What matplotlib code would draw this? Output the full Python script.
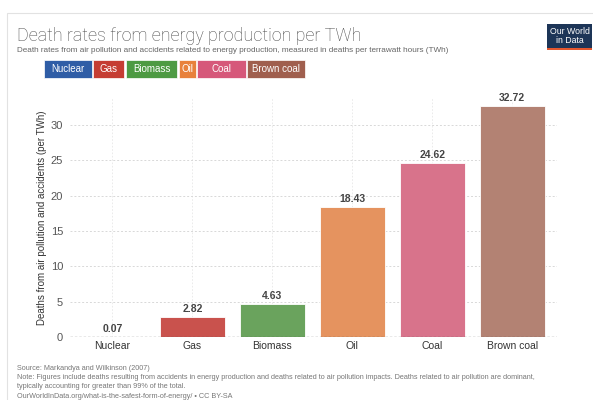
import matplotlib.pyplot as plt
from matplotlib.patches import Rectangle

## Data
sources = ['Nuclear', 'Gas', 'Biomass', 'Oil', 'Coal', 'Brown coal']
death_rates = [0.07, 2.82, 4.63, 18.43, 24.62, 32.72]
bar_colors = ['#3c64a8', '#c9524d', '#6aa35d', '#e5935f', '#d8738b', '#b38273']
legend_colors = ['#2f5da6', '#c53d33', '#4d9a42', '#e8813b', '#d6587a', '#a05f4e']
yticks = [0, 5, 10, 15, 20, 25, 30]

plt.rcParams['font.family'] = ['Liberation Sans', 'DejaVu Sans']

fig = plt.figure(figsize=(5.93, 4.0), dpi=100)
W, H = 593.0, 400.0

# card border
fig.patches.append(Rectangle((7 / W, -0.1), 1.1, 1 - 13 / H + 0.1, transform=fig.transFigure,
                             fill=False, edgecolor='#e2e2e2', linewidth=0.8))

ax = fig.add_axes([70 / W, 1 - 337 / H, (557 - 70) / W, (337 - 98) / H])
x = list(range(len(sources)))
bars = ax.bar(x, death_rates, width=0.81, color=bar_colors, edgecolor='white', linewidth=0.6, zorder=3)
for rect, v in zip(bars, death_rates):
  ax.annotate('{:.2f}'.format(v), xy=(rect.get_x() + rect.get_width() / 2, v),
              xytext=(0, 2), textcoords='offset points', ha='center', va='bottom',
              fontsize=7.5, fontweight='bold', color='#444444')

ax.set_xlim(-0.53, 5.56)
ax.set_ylim(0, 33.8)
ax.set_xticks(x)
ax.set_xticklabels(sources, fontsize=7.5, color='#333333')
ax.set_yticks(yticks)
ax.set_yticklabels([str(t) for t in yticks], fontsize=8, color='#555555')
ax.tick_params(axis='both', length=0, pad=3)
ax.tick_params(axis='y', pad=5)
for s in ax.spines.values():
  s.set_visible(False)
ax.grid(True, axis='y', linestyle=(0, (2, 2)), color='#d8d8d8', linewidth=0.7, zorder=0)
ax.grid(True, axis='x', linestyle=(0, (2, 2)), color='#e8e8e8', linewidth=0.6, zorder=0)
ax.axhline(0, color='#555555', linestyle=(0, (2, 1.5)), linewidth=0.9, zorder=4)
ax.set_ylabel('Deaths from air pollution and accidents (per TWh)', fontsize=7, color='#333333', labelpad=3)

# titles
fig.text(17 / W, 1 - 41 / H, 'Death rates from energy production per TWh', fontsize=12.9,
         family=['Roboto', 'DejaVu Sans'], fontweight='light',
         color='#4a4a4a', ha='left', va='baseline')
fig.text(17 / W, 1 - 52 / H,
         'Death rates from air pollution and accidents related to energy production, measured in deaths per terrawatt hours (TWh)',
         fontsize=5.9, color='#666666', ha='left', va='baseline')

# legend boxes
lx = [44, 93, 126, 179, 197, 247]
rx = [92, 124, 177, 196, 246, 305]
for name, col, a, b in zip(sources, legend_colors, lx, rx):
  fig.patches.append(Rectangle((a / W, 1 - 78 / H), (b - a) / W, 18 / H, transform=fig.transFigure,
                               facecolor=col, edgecolor='white', linewidth=0.5))
  fig.text((a + b) / 2 / W, 1 - 69 / H, name, fontsize=7, color='white', ha='center', va='center')

# logo
fig.patches.append(Rectangle((547 / W, 1 - 50 / H), 45 / W, 26 / H, transform=fig.transFigure,
                             facecolor='#1d3557', edgecolor='none'))
fig.patches.append(Rectangle((547 / W, 1 - 50 / H), 45 / W, 2.5 / H, transform=fig.transFigure,
                             facecolor='#e4572e', edgecolor='none'))
fig.text(569.5 / W, 1 - 36 / H, 'Our World\nin Data', fontsize=6.3, color='white', ha='center',
         va='center', linespacing=0.95)

# footer
foot = ['Source: Markandya and Wilkinson (2007)',
        'Note: Figures include deaths resulting from accidents in energy production and deaths related to air pollution impacts. Deaths related to air pollution are dominant,',
        'typically accounting for greater than 99% of the total.',
        'OurWorldInData.org/what-is-the-safest-form-of-energy/ \u2022 CC BY-SA']
for i, line in enumerate(foot):
  fig.text(17 / W, 1 - (370 + 9.2 * i) / H, line, fontsize=5.2, color='#777777', ha='left', va='baseline')

fig.savefig('out.png', dpi=100)
